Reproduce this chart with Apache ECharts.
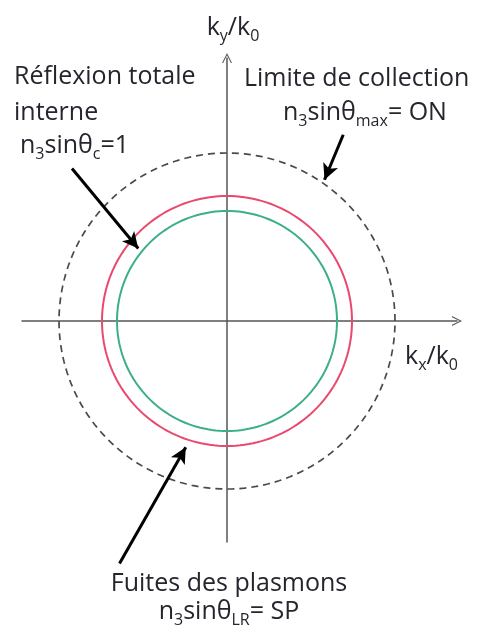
<!DOCTYPE html>
<html><head><meta charset="utf-8">
<script src="https://cdn.jsdelivr.net/npm/echarts@6/dist/echarts.min.js"></script>
<style>html,body{margin:0;padding:0;background:#fff}#c{width:480px;height:638px}</style>
</head><body><div id="c"></div>
<script>
// Circles in k/k0 units (radius)
const circleNames = ['Limite de collection (ON)', 'Réflexion totale interne (1)', 'Fuites des plasmons (SP)'];
const circleRadii = [1.344, 1.0, 0.88];
const circleColors = ['#4a4a4a', '#e8496c', '#3daf88'];
const circleDashed = [true, false, false];
// Axis extents in k/k0 units
const xRange = [-1.64, 1.84];
const yRange = [-1.768, 2.104];
// Whole-canvas extents in k/k0 units (for annotations)
const xCanvas = [-1.816, 2.024];
const yCanvas = [-2.536, 2.568];
// Annotation arrows [from, to] in k/k0 units
const arrowReflexion = [[-1.24, 1.22], [-0.71, 0.58]];
const arrowLimite = [[0.93, 1.49], [0.78, 1.13]];
const arrowFuites = [[-0.86, -1.94], [-0.33, -1.01]];

function circlePoints(r) {
  const pts = [];
  for (let a = 0; a <= 360; a += 2) {
    const t = a * Math.PI / 180;
    pts.push([r * Math.cos(t), r * Math.sin(t)]);
  }
  return pts;
}

const chart = echarts.init(document.getElementById('c'), null, {renderer: 'canvas'});
const FONT = 'Open Sans';
const TXT = '#25252e';
const NAVY = '#1c2b58';
const FS = 25;
const rich = {
  n: {fontFamily: FONT, fontSize: FS, color: TXT, lineHeight: 32, verticalAlign: 'middle'},
  b: {fontFamily: FONT, fontSize: FS, color: NAVY, lineHeight: 32, verticalAlign: 'middle'},
  s: {fontFamily: FONT, fontSize: 16, color: TXT, lineHeight: 32, verticalAlign: 'bottom'}
};
function txt(x, y, text, align) {
  return {type: 'text', x: x, y: y, silent: true,
    style: {text: text, fontFamily: FONT, fontSize: FS, fill: TXT, align: align || 'left', verticalAlign: 'middle', rich: rich}};
}
const arrowPath = 'path://M0,12 L6,0 L12,12 L10.6,12 L6,2.8 L1.4,12 Z';

const series = circleRadii.map((r, i) => ({
  name: circleNames[i], type: 'line', data: circlePoints(r), showSymbol: false, smooth: false,
  clip: false, silent: true, xAxisIndex: 0, yAxisIndex: 0,
  lineStyle: {color: circleColors[i], width: circleDashed[i] ? 1.7 : 2, type: circleDashed[i] ? [7, 5] : 'solid'},
  z: 3
}));
series.push({
  name: 'annotations', type: 'line', xAxisIndex: 1, yAxisIndex: 1, data: [], showSymbol: false, silent: true,
  markLine: {
    silent: true, animation: false, symbol: ['none', 'arrow'], symbolSize: [12, 16],
    label: {show: false},
    lineStyle: {color: '#000', width: 3, type: 'solid'},
    data: [arrowReflexion, arrowLimite, arrowFuites].map(a => [{coord: a[0]}, {coord: a[1]}])
  }
});

const hiddenAxis = {show: false};
chart.setOption({
  animation: false,
  backgroundColor: '#ffffff',
  grid: [
    {left: 22, top: 58, width: 435, height: 484, containLabel: false},
    {left: 0, top: 0, width: 480, height: 638, containLabel: false}
  ],
  xAxis: [
    {type: 'value', gridIndex: 0, min: xRange[0], max: xRange[1],
      axisLine: {onZero: true, lineStyle: {color: '#555', width: 1.5}, symbol: ['none', arrowPath], symbolSize: [13, 10]},
      axisTick: {show: false}, axisLabel: {show: false}, splitLine: {show: false}},
    Object.assign({type: 'value', gridIndex: 1, min: xCanvas[0], max: xCanvas[1]}, hiddenAxis)
  ],
  yAxis: [
    {type: 'value', gridIndex: 0, min: yRange[0], max: yRange[1],
      axisLine: {onZero: true, lineStyle: {color: '#555', width: 1.5}, symbol: ['none', arrowPath], symbolSize: [13, 10]},
      axisTick: {show: false}, axisLabel: {show: false}, splitLine: {show: false}},
    Object.assign({type: 'value', gridIndex: 1, min: yCanvas[0], max: yCanvas[1]}, hiddenAxis)
  ],
  series: series,
  graphic: [
    txt(233, 28, '{n|k}{s|y}{n|/k}{s|0}', 'center'),
    txt(405, 357, '{n|k}{s|x}{n|/k}{s|0}', 'left'),
    txt(14, 77, 'Réflexion totale'),
    txt(14, 113, 'interne'),
    txt(20, 146, '{n|n}{s|3}{n|sinθ}{s|c}{n|=1}'),
    txt(244, 79, 'Limite de collection'),
    txt(283, 113, '{n|n}{s|3}{n|sinθ}{s|max}{n|= }{b|ON}'),
    txt(229, 584, 'Fuites des plasmons', 'center'),
    txt(229, 612, '{n|n}{s|3}{n|sinθ}{s|LR}{n|= }{b|SP}', 'center')
  ]
});
</script></body></html>
